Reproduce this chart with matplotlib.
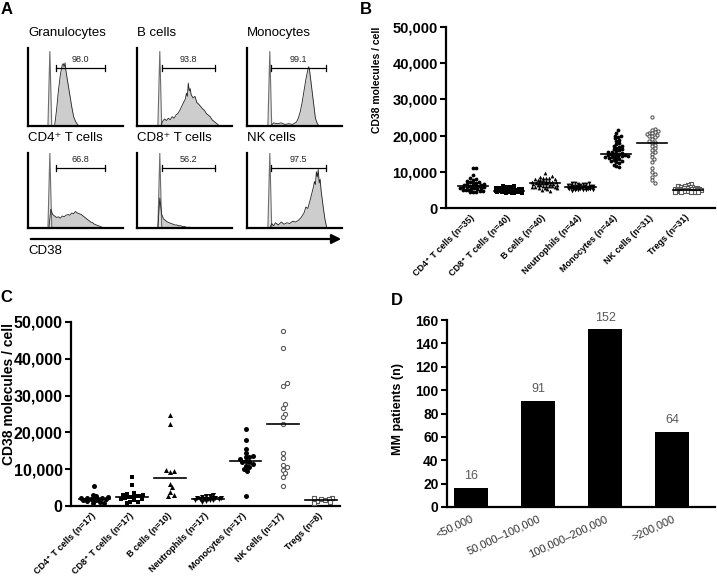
import numpy as np
import matplotlib
matplotlib.use("Agg")
import matplotlib.pyplot as plt
import matplotlib.transforms as mtransforms
from matplotlib.patches import FancyArrowPatch
from matplotlib.ticker import FuncFormatter, MultipleLocator

plt.rcParams['font.family'] = ['Liberation Sans', 'DejaVu Sans']

W, H = 717, 577

# ---- panel A: flow histograms (x, y in % of axis) ----
hist_titles = ["Granulocytes", "B cells", "Monocytes", "CD4\u207a T cells", "CD8\u207a T cells", "NK cells"]
hist_pct = ["98.0", "93.8", "99.1", "66.8", "56.2", "97.5"]
ctrl_pos = [23, 24, 24, 23, 24, 24]
ctrl_height = [96, 96, 96, 100, 100, 100]
gate_lo = [29, 26, 25, 29, 26, 25]
gate_hi = [81, 82, 83, 81, 82, 83]
hist_x = [
    [28, 30, 32, 34, 35, 36, 37, 38, 39, 40, 42, 44, 46, 48, 50, 52, 54],
    [25, 27, 29, 31, 33, 35, 37, 39, 41, 43, 45, 47, 49, 51, 52, 53, 54, 55, 56, 57, 59, 61, 63,
     65, 67, 69, 71, 73, 75, 77, 79, 81, 83, 85, 87],
    [25, 28, 32, 36, 40, 44, 48, 52, 54, 56, 58, 60, 62, 64, 65, 66, 68, 70, 72, 74, 76],
    [22, 24, 26, 28, 30, 32, 34, 36, 38, 40, 42, 44, 46, 48, 50, 52, 54, 56, 58, 60, 62, 64, 66,
     68, 70, 72, 74, 76, 78, 80],
    [22, 24, 26, 28, 30, 32, 34, 36, 38, 40, 42, 44, 46, 48, 50, 52, 54, 56, 58],
    [24, 26, 28, 30, 33, 36, 39, 42, 45, 48, 51, 54, 57, 60, 62, 64, 66, 68, 70, 71, 72, 73, 74,
     75, 76, 77, 78, 80, 82, 84],
]
hist_y = [
    [0, 20, 45, 65, 72, 78, 80, 76, 81, 70, 55, 40, 25, 12, 6, 2, 0],
    [0, 6, 9, 7, 10, 8, 12, 10, 14, 16, 20, 25, 30, 35, 42, 38, 55, 45, 48, 40, 36, 38, 30,
     28, 25, 22, 20, 16, 14, 12, 8, 6, 4, 2, 0],
    [0, 4, 3, 4, 2, 3, 2, 5, 10, 18, 30, 45, 60, 72, 76, 70, 50, 30, 10, 3, 0],
    [0, 25, 18, 16, 14, 15, 13, 16, 15, 17, 18, 17, 20, 19, 22, 20, 19, 18, 16, 14, 12, 10, 8,
     7, 5, 4, 3, 2, 1, 0],
    [0, 40, 18, 12, 10, 8, 7, 6, 5, 4, 4, 3, 3, 2, 2, 1, 1, 1, 0],
    [0, 6, 3, 7, 4, 8, 5, 7, 6, 9, 8, 10, 14, 20, 28, 26, 35, 45, 55, 62, 58, 75, 68,
     78, 60, 65, 50, 30, 12, 0],
]

# ---- panels B and C: CD38 molecules / cell ----
cells = ["CD4\u207a T cells", "CD8\u207a T cells", "B cells", "Neutrophils", "Monocytes", "NK cells", "Tregs"]
markers = ['o', 's', '^', 'v', 'o', 'o', 's']
open_marker = [False, False, False, False, False, True, True]

healthy = [
    [11000, 11000, 9200, 8200, 8000, 7800, 7500, 7300, 7100, 7000, 6900, 6700, 6600, 6400, 6300,
     6200, 6100, 6100, 6000, 5900, 5800, 5700, 5600, 5500, 5400, 5300, 5200, 5100, 5000, 4900,
     4800, 4700, 4500, 4400, 4300],
    [6100, 6000, 5900, 5800, 5700, 5600, 5500, 5400, 5300, 5200, 5200, 5100, 5100, 5000, 5000,
     4950, 4900, 4900, 4850, 4800, 4800, 4750, 4700, 4700, 4650, 4600, 4600, 4550, 4500, 4500,
     4450, 4400, 4400, 4350, 4300, 4300, 4250, 4200, 4200, 4100],
    [9800, 8800, 8500, 8400, 8300, 8200, 8000, 7900, 7800, 7700, 7600, 7500, 7400, 7300, 7200,
     7100, 7000, 7000, 6900, 6800, 6800, 6700, 6600, 6500, 6400, 6300, 6300, 6200, 6100, 6000,
     6000, 5900, 5800, 5700, 5600, 5500, 5400, 5300, 5000, 4800],
    [7000, 6900, 6800, 6700, 6600, 6500, 6400, 6300, 6300, 6200, 6200, 6100, 6100, 6000, 6000,
     5900, 5900, 5850, 5800, 5800, 5750, 5700, 5700, 5650, 5600, 5600, 5550, 5500, 5500, 5450,
     5400, 5400, 5350, 5300, 5300, 5250, 5200, 5200, 5100, 5100, 5000, 4950, 4900, 4800],
    [21500, 20800, 20000, 19800, 19500, 19200, 18800, 18500, 18000, 17600, 17200, 17000, 16800,
     16600, 16400, 16200, 16000, 15800, 15600, 15400, 15200, 15000, 15000, 14900, 14800, 14700,
     14600, 14500, 14400, 14300, 14200, 14100, 14000, 13800, 13600, 13500, 13300, 13100, 12900,
     12600, 12300, 12000, 11700, 11400],
    [25200, 21800, 21500, 21300, 21000, 20800, 20600, 20400, 20200, 20000, 19800, 19500, 19000,
     18600, 18300, 18000, 17500, 17000, 16500, 16000, 15500, 15000, 14200, 13500, 12800, 11000,
     10000, 9500, 8500, 7600, 7000],
    [6600, 6400, 6200, 6000, 5900, 5800, 5700, 5600, 5500, 5400, 5350, 5300, 5250, 5200, 5150,
     5100, 5050, 5000, 4950, 4900, 4850, 4800, 4750, 4700, 4650, 4600, 4550, 4500, 4400, 4350,
     4300],
]
patients = [
    [5500, 3000, 2600, 2400, 2300, 2200, 2100, 2000, 2000, 1900, 1800, 1700, 1500, 1300, 1100, 900, 700],
    [7800, 5700, 3500, 3300, 3100, 2900, 2700, 2600, 2500, 2400, 2200, 2000, 1800, 1500, 1200, 1000, 800],
    [24800, 22300, 9800, 9400, 9200, 6000, 5100, 3800, 3100, 2800],
    [3000, 2800, 2600, 2400, 2300, 2200, 2100, 2050, 2000, 1950, 1900, 1800, 1700, 1600, 1500, 1300, 1000],
    [21000, 18000, 15600, 14500, 13600, 13400, 13200, 12800, 12100, 12000, 11900, 11500, 11000,
     10500, 10000, 9500, 2700],
    [47500, 42900, 33300, 32500, 27700, 26700, 25000, 24100, 22400, 14500, 13100, 11100, 10700,
     9900, 8900, 7800, 5400],
    [2300, 2100, 2000, 1800, 1600, 1400, 1100, 900],
]

# ---- panel D ----
bins = ["<50,000", "50,000\u2013100,000", "100,000\u2013200,000", ">200,000"]
n_patients = [16, 91, 152, 64]


fig = plt.figure(figsize=(W / 100, H / 100), dpi=100)


def rect(l, t, r, b):
    return [l / W, 1 - b / H, (r - l) / W, (b - t) / H]


def fig_text(x, y, s, **kw):
    fig.text(x / W, 1 - y / H, s, **kw)


# ---------------- A ----------------
cols = [(28, 123), (137, 232), (247, 342)]
rows = [(48, 126), (153, 228)]
for i in range(6):
    r, c = divmod(i, 3)
    ax = fig.add_axes(rect(cols[c][0], rows[r][0], cols[c][1], rows[r][1]))
    ax.fill_between(hist_x[i], hist_y[i], color='#cdcdcd', lw=0)
    ax.plot(hist_x[i], hist_y[i], color='#222222', lw=0.6)
    cp = ctrl_pos[i]
    ax.fill([cp - 2, cp, cp + 2], [0, ctrl_height[i], 0], facecolor='#e4e4e4',
            edgecolor='#6e6e6e', lw=0.8)
    gy = 74 if r == 0 else 80
    ax.plot([gate_lo[i], gate_hi[i]], [gy, gy], color='black', lw=0.9)
    ax.plot([gate_lo[i]] * 2, [gy - 4, gy + 4], color='black', lw=0.9)
    ax.plot([gate_hi[i]] * 2, [gy - 4, gy + 4], color='black', lw=0.9)
    ax.text((gate_lo[i] + gate_hi[i]) / 2, gy + 5, hist_pct[i], ha='center', va='bottom',
            fontsize=6.5, color='#222222')
    ax.set_xlim(0, 100)
    ax.set_ylim(0, 100)
    ax.set_xticks([])
    ax.set_yticks([])
    for s in ['top', 'right']:
        ax.spines[s].set_visible(False)
    for s in ['left', 'bottom']:
        ax.spines[s].set_linewidth(1.6)
    ax.patch.set_alpha(0)
    fig_text(cols[c][0], rows[r][0] - 15, hist_titles[i], fontsize=9.5, ha='left', va='center')

arrow = FancyArrowPatch((28 / W, 1 - 239 / H), (344 / W, 1 - 239 / H), transform=fig.transFigure,
                        arrowstyle='-|>', mutation_scale=14, lw=1.6, color='black')
fig.add_artist(arrow)
fig_text(28, 251, "CD38", fontsize=9.5, ha='left', va='center')

fig_text(7, 10, "A", fontsize=12, fontweight='bold', ha='center', va='center')
fig_text(366, 10, "B", fontsize=12, fontweight='bold', ha='center', va='center')
fig_text(6, 297, "C", fontsize=12, fontweight='bold', ha='center', va='center')
fig_text(397, 300, "D", fontsize=12, fontweight='bold', ha='center', va='center')


def swarm_x(ax, vals, center, d_px, max_px):
    pos = ax.get_position()
    x0, x1 = ax.get_xlim()
    y0, y1 = ax.get_ylim()
    sx = pos.width * W / (x1 - x0)
    sy = pos.height * H / (y1 - y0)
    step = d_px * 0.5
    cands = [0.0]
    k = 1
    while k * step <= max_px:
        cands += [k * step, -k * step]
        k += 1
    vals = np.asarray(vals, dtype=float)
    order = np.argsort(np.abs(vals - np.median(vals)))
    placed = []
    xs = np.zeros(len(vals))
    for i in order:
        py = vals[i] * sy
        best, best_d = 0.0, -1
        for c in cands:
            dmin = min([np.hypot(c - px, py - qy) for px, qy in placed] + [1e9])
            if dmin >= d_px:
                best = c
                break
            if dmin > best_d:
                best, best_d = c, dmin
        placed.append((best, py))
        xs[i] = center + best / sx
    return xs


def dot_panel(box, groups, xlim, msize, ylabel_size, ylabel_pos, tick_size, counts):
    ax = fig.add_axes(rect(*box))
    ax.set_xlim(*xlim)
    ax.set_ylim(0, 50000)
    for j, vals in enumerate(groups):
        xs = swarm_x(ax, vals, j, msize * 0.75, 14)
        if open_marker[j]:
            ax.scatter(xs, vals, s=(msize * 0.6) ** 2, marker=markers[j], facecolor='white',
                       edgecolor='#5a5a5a', linewidths=0.8, zorder=3)
        else:
            ax.scatter(xs, vals, s=(msize * 0.72) ** 2, marker=markers[j], color='black',
                       linewidths=0, zorder=3)
        med = np.median(vals)
        ax.plot([j - 0.42, j + 0.42], [med, med], color='black', lw=1.2, zorder=4)
    ax.set_xticks(range(len(groups)))
    ax.set_xticklabels(["%s (n=%d)" % (c, n) for c, n in zip(cells, counts)], rotation=45,
                       ha='right', va='center', rotation_mode='anchor', fontsize=6.5,
                       fontweight='bold')
    ax.tick_params(axis='x', length=0, pad=6)
    ax.yaxis.set_major_locator(MultipleLocator(10000))
    ax.yaxis.set_major_formatter(FuncFormatter(lambda v, p: "{:,.0f}".format(v)))
    ax.tick_params(axis='y', length=4, width=1.5, labelsize=tick_size, pad=2)
    for t in ax.get_yticklabels():
        t.set_fontweight('bold')
    ax.set_ylabel("CD38 molecules / cell", fontsize=ylabel_size, fontweight='bold')
    ax.yaxis.set_label_coords((ylabel_pos[0] - box[0]) / (box[2] - box[0]),
                              (box[3] - ylabel_pos[1]) / (box[3] - box[1]))
    for s in ['top', 'right']:
        ax.spines[s].set_visible(False)
    for s in ['left', 'bottom']:
        ax.spines[s].set_linewidth(1.6)
    return ax


dot_panel((446, 27, 715, 208), healthy, (-0.75, 6.75), 3.8, 7.5, (382, 80), 10.5,
          [35, 40, 40, 44, 44, 31, 31])
dot_panel((71, 322, 340, 506), patients, (-0.62, 6.5), 5.0, 10, (16, 394), 11.5,
          [17, 17, 10, 17, 17, 17, 8])

# ---------------- D ----------------
axd = fig.add_axes(rect(447, 320, 715, 507))
xd = np.arange(len(n_patients))
axd.bar(xd, n_patients, width=0.5, color='black')
for x, v in zip(xd, n_patients):
    axd.text(x, v + 5, str(v), ha='center', va='bottom', fontsize=9, color='#595959')
axd.set_xlim(-0.36, 3.64)
axd.set_ylim(0, 160)
axd.yaxis.set_major_locator(MultipleLocator(20))
axd.tick_params(axis='y', length=4, width=1.5, labelsize=10, pad=2)
for t in axd.get_yticklabels():
    t.set_fontweight('bold')
axd.set_xticks(xd)
axd.set_xticklabels(bins, rotation=25, ha='right', va='top', rotation_mode='anchor',
                    fontsize=8, color='#333333')
offset = mtransforms.ScaledTranslation(12 / 100, 0, fig.dpi_scale_trans)
for t in axd.get_xticklabels():
    t.set_transform(t.get_transform() + offset)
axd.tick_params(axis='x', length=0, pad=5)
axd.set_ylabel("MM patients (n)", fontsize=9, fontweight='bold')
axd.yaxis.set_label_coords((404 - 447) / (715 - 447), (507 - 409) / (507 - 320))
for s in ['top', 'right']:
    axd.spines[s].set_visible(False)
for s in ['left', 'bottom']:
    axd.spines[s].set_linewidth(1.6)

fig.savefig("out.png", dpi=100)
